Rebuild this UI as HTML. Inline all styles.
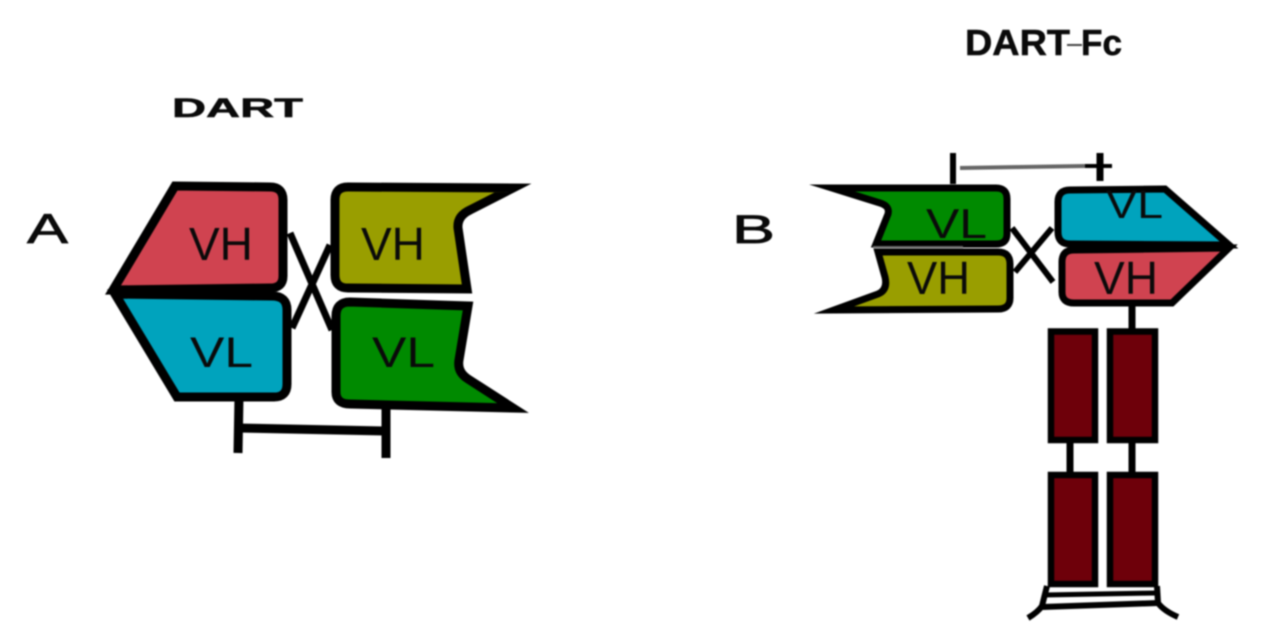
<!DOCTYPE html>
<html><head><meta charset="utf-8"><style>
html,body{margin:0;padding:0;background:#fff;width:1262px;height:643px;overflow:hidden}
svg{display:block;filter:blur(.7px)}
text{font-family:"Liberation Sans",sans-serif;fill:#0a0a0a}
</style></head><body>
<svg width="1262" height="643" viewBox="0 0 1262 643" xmlns="http://www.w3.org/2000/svg">
<g stroke="#000" stroke-width="9" stroke-linejoin="miter" stroke-miterlimit="20" stroke-linecap="butt">
<!-- A panel connectors -->
<path d="M290 233 L332 330 M330 245 L292 328" fill="none" stroke-width="7"/>
<path d="M239 397 L238 453 M386 405 L386 458" fill="none" stroke-width="9"/>
<path d="M238 428 L386 431" fill="none" stroke-width="9"/>
<!-- A panel shapes -->
<path d="M113 290 L175 186 L270 187 Q283 187 283 200 L283 276 Q283 288 270 288 Z" fill="#d04350"/>
<path d="M115 294 L272 296 Q287 296 287 310 L287 384 Q287 397 274 397 L177 397 Z" fill="#00a3bd"/>
<path d="M335 200 Q335 187 348 187 L513 188 L470 210 Q457 216 458 228 L467 289 L348 288 Q335 288 335 275 Z" fill="#999e00"/>
<path d="M336 316 Q336 302 350 302 L468 306 L459 360 Q457 372 468 379 L513 408 L350 404 Q336 404 336 392 Z" fill="#008a00"/>
<!-- B panel connectors -->
<path d="M1012 228 L1053 282 M1052 228 L1015 272" fill="none" stroke-width="6"/>
<path d="M1132 303 L1132 331 M1070 440 L1070 474 M1132 440 L1132 474" fill="none" stroke-width="7"/>
<path d="M953 153 L953 184" fill="none" stroke-width="6"/>
<path d="M1100 153 L1100 181" fill="none" stroke-width="7"/>
<path d="M1085 166 L1112 166" fill="none" stroke-width="4"/>
<path d="M960 168 L1085 166" fill="none" stroke-width="4" stroke="#666"/>
<!-- B panel shapes -->
<path d="M832 188 L996 188 Q1007 188 1007 199 L1007 234 Q1007 244 996 244 L876 244 L888 214 Q890 206 880 203 Z" fill="#008a00" stroke-width="7"/>
<path d="M834 310 L998 309 Q1010 309 1010 298 L1010 264 Q1010 252 998 252 L878 252 L885 277 Q888 290 878 294 Z" fill="#999e00" stroke-width="7"/>
<path d="M1058 202 Q1058 190 1070 190 L1165 189 L1229 245 L1070 244 Q1058 244 1058 232 Z" fill="#00a3bd" stroke-width="7"/>
<path d="M1062 262 Q1062 250 1074 250 L1229 248 L1172 303 L1074 303 Q1062 303 1062 292 Z" fill="#d04350" stroke-width="7"/>
<path d="M873 247 L963 247" fill="none" stroke="#666" stroke-width="2"/>
<!-- Fc blocks -->
<g fill="#6e000a" stroke="#000" stroke-width="6.500">
<rect x="1051" y="331.500" width="44" height="108.500"/><rect x="1110" y="331.500" width="45" height="108.500"/>
<rect x="1051" y="475" width="44" height="109"/><rect x="1110" y="475" width="45" height="109"/>
</g>
<path d="M1047 586 L1042 606 Q1038 612 1028 618 M1157 586 L1158 603 Q1164 611 1178 617" fill="none" stroke-width="6"/>
<path d="M1044 595 L1156 593" fill="none" stroke-width="5"/>
<path d="M1042 607 L1158 603" fill="none" stroke-width="6"/>
</g>
<g font-size="46">
<text x="189" y="260">VH</text><text x="361" y="260">VH</text>
<text x="190" y="367" font-size="43" textLength="63" lengthAdjust="spacingAndGlyphs">VL</text>
<text x="372" y="367" font-size="43" textLength="63" lengthAdjust="spacingAndGlyphs">VL</text>
<text x="926" y="238" font-size="42" textLength="61" lengthAdjust="spacingAndGlyphs">VL</text>
<text x="907" y="294" font-size="46" textLength="63" lengthAdjust="spacingAndGlyphs">VH</text>
<text x="1106" y="218" font-size="40" textLength="57" lengthAdjust="spacingAndGlyphs">VL</text>
<text x="1094" y="294" font-size="46" textLength="64" lengthAdjust="spacingAndGlyphs">VH</text>
</g>
<g font-weight="bold" stroke="#000" stroke-width=".5">
<text x="172" y="117" font-size="27" textLength="131" lengthAdjust="spacingAndGlyphs">DART</text>
<text x="965" y="55" font-size="36" textLength="105" lengthAdjust="spacingAndGlyphs">DART</text>
<text x="1081" y="55" font-size="36" textLength="41" lengthAdjust="spacingAndGlyphs">Fc</text>
</g>
<path d="M1067 45 L1082 45" stroke="#444" stroke-width="2" fill="none"/>
<g stroke="#000" stroke-width=".7">
<text x="27" y="243" font-size="42" textLength="41" lengthAdjust="spacingAndGlyphs">A</text>
<text x="732" y="243" font-size="40" textLength="43" lengthAdjust="spacingAndGlyphs">B</text>
</g>
</svg>
</body></html>
